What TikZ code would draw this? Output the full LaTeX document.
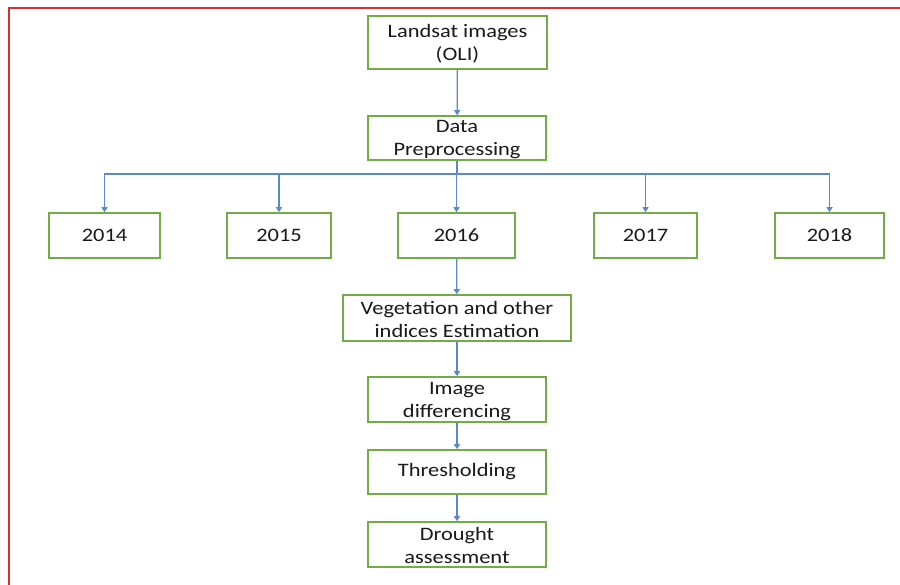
\documentclass[tikz,border=0pt]{standalone}
\usepackage{fontspec}
\setmainfont{Carlito}[FakeStretch=1.18]
\usetikzlibrary{arrows.meta}
\definecolor{boxgreen}{RGB}{112,173,71}
\definecolor{flowblue}{RGB}{91,135,205}
\definecolor{framered}{RGB}{212,48,48}
\definecolor{txtgray}{RGB}{25,25,25}
\newcommand{\toplift}{\rule{0pt}{16pt}}
\tikzset{
  stagebox/.style={draw=boxgreen, line width=1.6pt, fill=white, inner sep=0pt,
    align=center, text=txtgray, minimum height=45pt,
    font=\fontsize{19}{23}\selectfont},
  flow/.style={draw=flowblue, line width=1.3pt, -{Triangle[width=6pt,length=5pt]}}
}
\begin{document}
\begin{tikzpicture}[x=1pt,y=-1pt]
  \useasboundingbox (0,0) rectangle (900,585);
  \draw[framered, line width=2pt] (8.5,585) -- (8.5,8.5) -- (900,8.5);
  % main chain
  \node[stagebox, minimum width=179pt, minimum height=53pt] (landsat) at (457.5,42.5) {\toplift Landsat images\\(OLI)};
  \node[stagebox, minimum width=178pt, minimum height=44pt] (prep) at (457,138) {\toplift Data\\Preprocessing};
  % years
  \node[stagebox, minimum width=111pt] (y2014) at (104.5,235.5) {2014};
  \node[stagebox, minimum width=104pt] (y2015) at (279,235.5) {2015};
  \node[stagebox, minimum width=117pt] (y2016) at (456.5,235.5) {2016};
  \node[stagebox, minimum width=103pt] (y2017) at (645.5,235.5) {2017};
  \node[stagebox, minimum width=109pt] (y2018) at (829.5,235.5) {2018};
  \node[stagebox, minimum width=228pt, minimum height=46pt] (veg) at (457,318) {\toplift Vegetation and other\\indices Estimation};
  \node[stagebox, minimum width=178pt] (diff) at (457,399.5) {\toplift Image\\differencing};
  \node[stagebox, minimum width=178pt, minimum height=44pt] (thresh) at (457,472) {Thresholding};
  \node[stagebox, minimum width=178pt] (drought) at (457,544.5) {\toplift Drought\\assessment};
  \coordinate (split) at (457,174);
  \draw[flow] (landsat) -- (prep);
  \draw[draw=flowblue, line width=1.3pt] (prep) -- (split);
  \foreach \yr in {2014,2015,2016,2017,2018}
    \draw[flow] (split) -| (y\yr);
  \draw[flow] (y2016) -- (veg);
  \draw[flow] (veg) -- (diff);
  \draw[flow] (diff) -- (thresh);
  \draw[flow] (thresh) -- (drought);
\end{tikzpicture}
\end{document}
